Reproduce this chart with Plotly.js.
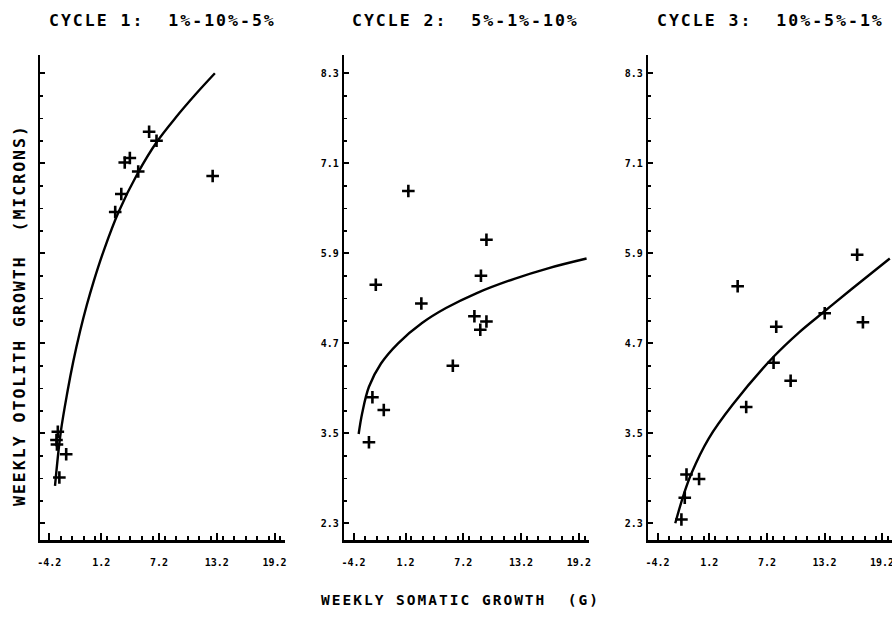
<!DOCTYPE html>
<html>
<head>
<meta charset="utf-8">
<script src="https://cdn.plot.ly/plotly-3.0.1.min.js"></script>
<style>
  html, body { margin: 0; padding: 0; background: #ffffff; }
  #chart { width: 892px; height: 627px; }
  .annotation-text { letter-spacing: 2px; }
</style>
</head>
<body>
<div id="chart"></div>
<script>
// ---- Data ----
const panelTitles = ["CYCLE 1:\u00a0 1%-10%-5%", "CYCLE 2:\u00a0 5%-1%-10%", "CYCLE 3:\u00a0 10%-5%-1%"];
const xAxisTitle = "WEEKLY SOMATIC GROWTH\u00a0 (G)";
const yAxisTitle = "WEEKLY OTOLITH GROWTH\u00a0 (MICRONS)";

const xTickVals = [-4.2, 1.2, 7.2, 13.2, 19.2];
const xTickText = ["-4.2", "1.2", "7.2", "13.2", "19.2"];
const yTickVals = [2.3, 3.5, 4.7, 5.9, 7.1, 8.3];
const yTickText = ["2.3", "3.5", "4.7", "5.9", "7.1", "8.3"];

// Cycle 1 observations
const c1x = [6.17, 6.94, 4.17, 3.64, 5.04, 3.28, 2.65, 12.77, -3.31, -3.45, -3.40, -2.44, -3.15];
const c1y = [7.52, 7.40, 7.17, 7.11, 6.99, 6.69, 6.45, 6.93, 3.52, 3.41, 3.35, 3.22, 2.91];
// Cycle 1 fitted curve
const f1x = [-3.6, -3.0, -2.3, -1.7, -1.0, -0.3, 0.4, 1.5, 3.0, 5.0, 7.0, 9.0, 11.0, 13.0];
const f1y = [2.80, 3.52, 4.06, 4.46, 4.86, 5.21, 5.52, 5.95, 6.45, 6.97, 7.39, 7.72, 8.02, 8.30];

// Cycle 2 observations
const c2x = [1.49, 9.60, 9.03, -1.89, 2.84, 8.35, 9.60, 8.96, 6.11, -2.24, -1.06, -2.60];
const c2y = [6.73, 6.08, 5.60, 5.48, 5.23, 5.06, 4.99, 4.88, 4.40, 3.98, 3.81, 3.38];
// Cycle 2 fitted curve
const f2x = [-3.67, -3.3, -2.6, -1.35, 0.43, 2.91, 5.4, 8.6, 12.5, 16.0, 20.0];
const f2y = [3.49, 3.77, 4.12, 4.43, 4.70, 4.97, 5.17, 5.37, 5.56, 5.70, 5.83];

// Cycle 3 observations
const c3x = [16.60, 4.15, 13.22, 17.20, 8.17, 7.89, 9.67, 5.04, -1.18, 0.13, -1.36, -1.71];
const c3y = [5.88, 5.46, 5.10, 4.98, 4.92, 4.44, 4.20, 3.85, 2.95, 2.89, 2.64, 2.35];
// Cycle 3 fitted curve
const f3x = [-2.35, -1.53, -0.65, 1.13, 3.62, 7.89, 10.5, 13.14, 16.0, 20.0];
const f3y = [2.30, 2.66, 2.97, 3.43, 3.88, 4.52, 4.84, 5.12, 5.42, 5.83];

// ---- Styling / layout ----
const W = 892, H = 627;
const pts = [[c1x, c1y], [c2x, c2y], [c3x, c3y]];
const fits = [[f1x, f1y], [f2x, f2y], [f3x, f3y]];
const axSuffix = ["", "2", "3"];

const traces = [];
for (let i = 0; i < 3; i++) {
  traces.push({
    type: "scatter", mode: "lines",
    x: fits[i][0], y: fits[i][1],
    xaxis: "x" + axSuffix[i], yaxis: "y" + axSuffix[i],
    line: { color: "black", width: 2.4, shape: "spline", smoothing: 1 },
    hoverinfo: "skip", showlegend: false
  });
  traces.push({
    type: "scatter", mode: "markers",
    x: pts[i][0], y: pts[i][1],
    xaxis: "x" + axSuffix[i], yaxis: "y" + axSuffix[i],
    marker: { symbol: "cross-thin", size: 9, color: "black", line: { color: "black", width: 2.6 } },
    showlegend: false
  });
}

const tickFont = { family: "DejaVu Sans Mono", size: 10, weight: "bold", color: "black" };
const pxDomains = [[40, 284.5], [344.3, 588.8], [648.3, 892.8]];
const yDom = [1 - 540 / H, 1 - 55 / H];

function xAxis(i) {
  return {
    domain: [pxDomains[i][0] / W, Math.min(1, pxDomains[i][1] / W)],
    anchor: "y" + axSuffix[i],
    range: [-5.16, 20.23],
    showline: true, linewidth: 2.5, linecolor: "black",
    showgrid: false, zeroline: false,
    ticks: "inside", ticklen: 7, tickwidth: 2, tickcolor: "black",
    tickmode: "array", tickvals: xTickVals, ticktext: xTickText,
    tickfont: tickFont, ticklabelstandoff: 11, ticklabeloverflow: "allow",
    minor: { tickmode: "linear", tick0: -4.2, dtick: 1.2, ticks: "inside", ticklen: 4, tickwidth: 2, tickcolor: "black", showgrid: false },
    automargin: false, fixedrange: true
  };
}
function yAxis(i) {
  return {
    domain: yDom,
    anchor: "x" + axSuffix[i],
    range: [2.077, 8.544],
    showline: true, linewidth: 2.5, linecolor: "black",
    showgrid: false, zeroline: false,
    ticks: "inside", ticklen: 5, tickwidth: 2, tickcolor: "black",
    tickmode: "array", tickvals: yTickVals, ticktext: yTickText,
    showticklabels: i !== 0,
    tickfont: tickFont, ticklabelstandoff: 1, ticklabeloverflow: "allow",
    minor: { tickmode: "linear", tick0: 2.3, dtick: 0.3, ticks: "inside", ticklen: 3, tickwidth: 1.5, tickcolor: "black", showgrid: false },
    automargin: false, fixedrange: true
  };
}

const titleCenters = [162, 466, 770];
const annotations = panelTitles.map((t, i) => ({
  text: t, xref: "paper", yref: "paper",
  x: titleCenters[i] / W, y: 1 - 20.5 / H, xanchor: "center", yanchor: "middle",
  showarrow: false,
  font: { family: "DejaVu Sans Mono", size: 16.5, weight: "bold", color: "black" }
}));
annotations.push({
  text: xAxisTitle, xref: "paper", yref: "paper",
  x: 460 / W, y: 1 - 600 / H, xanchor: "center", yanchor: "middle",
  showarrow: false,
  font: { family: "DejaVu Sans Mono", size: 14.5, weight: "bold", color: "black" }
});
annotations.push({
  text: yAxisTitle, xref: "paper", yref: "paper",
  x: 19 / W, y: 1 - 315 / H, xanchor: "center", yanchor: "middle",
  textangle: -90, showarrow: false,
  font: { family: "DejaVu Sans Mono", size: 16.5, weight: "bold", color: "black" }
});

const layout = {
  width: W, height: H,
  margin: { l: 0, r: 0, t: 0, b: 0, pad: 0 },
  paper_bgcolor: "white", plot_bgcolor: "white",
  showlegend: false,
  xaxis: xAxis(0), xaxis2: xAxis(1), xaxis3: xAxis(2),
  yaxis: yAxis(0), yaxis2: yAxis(1), yaxis3: yAxis(2),
  annotations: annotations
};

Plotly.newPlot("chart", traces, layout, { displayModeBar: false, staticPlot: true });
</script>
</body>
</html>
